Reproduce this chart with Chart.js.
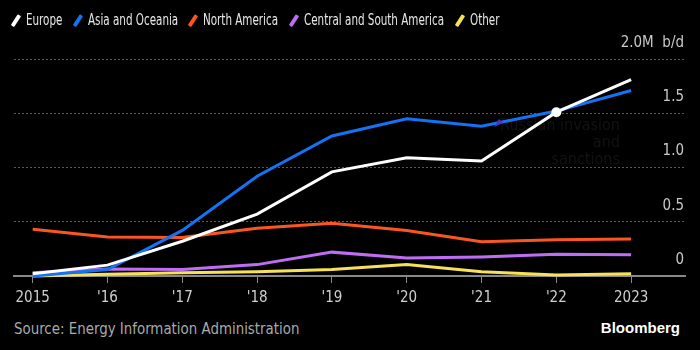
<!DOCTYPE html>
<html>
<head>
<meta charset="utf-8">
<script src="https://cdn.jsdelivr.net/npm/chart.js@4"></script>
<style>
  body { margin: 0; background: #000; width: 700px; height: 350px; overflow: hidden; position: relative;
         font-family: "Liberation Sans Narrow", "DejaVu Sans Condensed", sans-serif; }
  #wrap { position: absolute; left: 0; top: 0; width: 700px; height: 313px; }
  .item { position: absolute; top: 11px; height: 18px; color: #e8e8e8; font-size: 16px; line-height: 18px; white-space: nowrap; }
  .item .sw { position: absolute; left: 4px; top: 3px; width: 3.5px; height: 13px; border-radius: 1px; transform: rotate(33deg); }
  .item .tx { position: absolute; left: 16px; top: 0; transform: scaleX(0.72); transform-origin: left center; }
  #source { position: absolute; left: 14px; top: 319px; color: #aaa; font-size: 16px; transform: scaleX(0.93); transform-origin: left center; white-space: nowrap; }
  #brand { position: absolute; right: 20px; top: 319px; color: #fff; font-size: 15px; font-weight: bold; font-family: "Liberation Sans", Arial, sans-serif; }
</style>
</head>
<body>
<div id="wrap"><canvas id="chart"></canvas></div>
<div id="legend"></div>
<div id="source">Source: Energy Information Administration</div>
<div id="brand">Bloomberg</div>
<script>
// years on the x axis
const years = [2015, 2016, 2017, 2018, 2019, 2020, 2021, 2022, 2023];

// million barrels per day
const europe = [0.02, 0.10, 0.32, 0.57, 0.96, 1.09, 1.06, 1.51, 1.81];
const asiaOceania = [0.00, 0.06, 0.42, 0.92, 1.29, 1.45, 1.38, 1.52, 1.71];
const northAmerica = [0.43, 0.36, 0.355, 0.44, 0.485, 0.42, 0.315, 0.335, 0.34];
const centralSouthAmerica = [0.03, 0.065, 0.06, 0.105, 0.22, 0.165, 0.175, 0.20, 0.195];
const other = [0.00, 0.015, 0.03, 0.04, 0.06, 0.105, 0.04, 0.01, 0.02];

const yTicks = [0, 0.5, 1.0, 1.5, 2.0];

const series = [
  { name: 'Europe', data: europe, color: '#ffffff' },
  { name: 'Asia and Oceania', data: asiaOceania, color: '#1473f2' },
  { name: 'North America', data: northAmerica, color: '#fb5522' },
  { name: 'Central and South America', data: centralSouthAmerica, color: '#bd6ef5' },
  { name: 'Other', data: other, color: '#f7e15a' }
];
const legendX = [10, 72, 187, 288, 454];

// html legend
const legend = document.getElementById('legend');
series.forEach((s, i) => {
  const item = document.createElement('div');
  item.className = 'item';
  item.style.left = legendX[i] + 'px';
  item.innerHTML = `<span class="sw" style="background:${s.color}"></span><span class="tx">${s.name}</span>`;
  legend.appendChild(item);
});

// y labels sit above the gridlines on the right
const yLabels = {
  id: 'yLabels',
  afterDraw(chart) {
    const c = chart.ctx, y = chart.scales.y, area = chart.chartArea;
    c.save();
    c.font = '15px "Liberation Sans Narrow", "DejaVu Sans Condensed", sans-serif';
    c.fillStyle = '#c8c8c8';
    c.textAlign = 'right';
    c.textBaseline = 'middle';
    yTicks.forEach(v => {
      let txt = v === 0 ? '0' : v.toFixed(1);
      if (v === 2) txt = '2.0M  b/d';
      c.fillText(txt, area.right - 1, y.getPixelForValue(v) - 16);
    });
    c.restore();
  }
};

// faint annotation near 2021-22
const note = {
  id: 'note',
  beforeDatasetsDraw(chart) {
    const c = chart.ctx, x = chart.scales.x, y = chart.scales.y;
    c.save();
    c.font = '16px "Liberation Sans Narrow", "DejaVu Sans Condensed", sans-serif';
    c.fillStyle = '#121212';
    c.textAlign = 'right';
    c.textBaseline = 'middle';
    const rx = x.getPixelForValue(2022.85);
    ['Russian invasion', 'and', 'sanctions'].forEach((t, i) => {
      c.fillText(t, rx, y.getPixelForValue(1.38) + i * 17);
    });
    c.restore();
  },
  afterDatasetsDraw(chart) {
    const c = chart.ctx, x = chart.scales.x, y = chart.scales.y;
    const px = x.getPixelForValue(2021.22), py = y.getPixelForValue(1.41);
    c.save();
    c.fillStyle = '#4636c8';
    c.beginPath();
    c.moveTo(px - 4, py + 4);
    c.lineTo(px + 1, py - 4);
    c.lineTo(px + 5, py);
    c.closePath();
    c.fill();
    c.restore();
  }
};

new Chart(document.getElementById('chart'), {
  type: 'line',
  data: {
    datasets: series.map(s => ({
      label: s.name,
      data: s.data.map((v, i) => ({ x: years[i], y: v })),
      borderColor: s.color,
      backgroundColor: s.color,
      borderWidth: 3,
      tension: 0,
      pointRadius: s.name === 'Europe' ? s.data.map((v, i) => years[i] === 2022 ? 5 : 0) : 0,
      pointBorderWidth: 0,
      clip: false
    }))
  },
  options: {
    responsive: true,
    maintainAspectRatio: false,
    animation: false,
    layout: { padding: { left: 14, right: 15, top: 59, bottom: 0 } },
    plugins: { legend: { display: false }, tooltip: { enabled: false } },
    scales: {
      x: {
        type: 'linear',
        min: 2014.75,
        max: 2023.72,
        afterBuildTicks: axis => { axis.ticks = years.map(v => ({ value: v })); },
        ticks: {
          color: '#cfcfcf',
          padding: 6,
          maxRotation: 0,
          font: { size: 15, family: '"Liberation Sans Narrow", "DejaVu Sans Condensed", sans-serif' },
          callback: v => (v === 2015 || v === 2023) ? String(v) : "'" + String(v).slice(2)
        },
        grid: { drawOnChartArea: false, drawTicks: true, tickLength: 7, color: '#888', lineWidth: 1 },
        border: { display: true, color: '#888', width: 2 }
      },
      y: {
        min: 0,
        max: 2,
        afterBuildTicks: axis => { axis.ticks = yTicks.map(v => ({ value: v })); },
        ticks: { display: false },
        grid: {
          drawTicks: false,
          color: ctx => ctx.tick && ctx.tick.value === 0 ? 'rgba(0,0,0,0)' : '#5a5a5a',
          lineWidth: 1
        },
        border: { display: false, dash: [2, 2] }
      }
    }
  },
  plugins: [yLabels, note]
});
</script>
</body>
</html>
